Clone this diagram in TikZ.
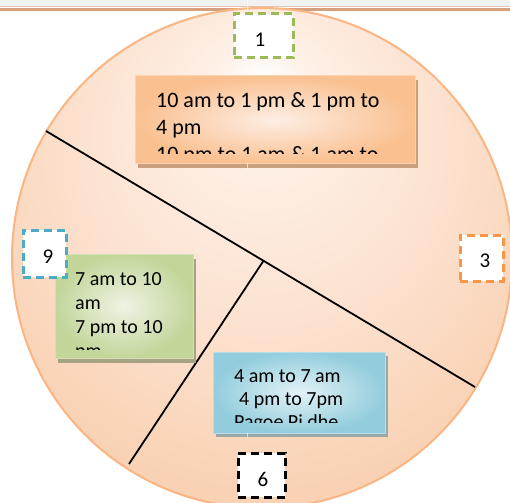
\documentclass[tikz,border=0pt]{standalone}
\usepackage{fontspec}
\setmainfont{Carlito}
\usetikzlibrary{shadows,calc}
\definecolor{topgray}{HTML}{F2F2F2}
\definecolor{bandtan}{HTML}{E6C3AA}
\definecolor{bandbrown}{HTML}{D4A07E}
\definecolor{circedge}{HTML}{FAB582}
\definecolor{pchA}{HTML}{FEF1E8}
\definecolor{pchB}{HTML}{FCE2D0}
\definecolor{pchC}{HTML}{F9D0B1}
\definecolor{orOut}{HTML}{FAC090}
\definecolor{orIn}{HTML}{FDEEE4}
\definecolor{orEdge}{HTML}{FBD3B2}
\definecolor{orShadow}{HTML}{C9A07E}
\definecolor{grOut}{HTML}{C2D69A}
\definecolor{grIn}{HTML}{EEF3E4}
\definecolor{grEdge}{HTML}{D3E2B6}
\definecolor{grShadow}{HTML}{A6A382}
\definecolor{blOut}{HTML}{93CDDD}
\definecolor{blIn}{HTML}{E3F2F6}
\definecolor{blEdge}{HTML}{B7DEE8}
\definecolor{blShadow}{HTML}{9AA8A8}
\definecolor{dGreen}{HTML}{9BBB59}
\definecolor{dBlue}{HTML}{4BACC6}
\definecolor{dOrange}{HTML}{F79646}
\pgfdeclareradialshading{circfill}{\pgfpoint{0bp}{18bp}}{color(0bp)=(white); color(5bp)=(pchA); color(18bp)=(pchB); color(32bp)=(pchC); color(50bp)=(pchC)}
\tikzset{
  tbox/.style={rectangle, line width=1pt, inner sep=0pt},
  obox/.style={tbox, draw=orEdge, inner color=orIn, outer color=orOut,
    drop shadow={shadow xshift=3pt, shadow yshift=-4pt, fill=orShadow, opacity=1}},
  gbox/.style={tbox, draw=grEdge, inner color=grIn, outer color=grOut,
    drop shadow={shadow xshift=3pt, shadow yshift=-5pt, fill=grShadow, opacity=1}},
  bbox/.style={tbox, draw=blEdge, inner color=blIn, outer color=blOut,
    drop shadow={shadow xshift=3pt, shadow yshift=-4pt, fill=blShadow, opacity=1}},
  numbox/.style={rectangle, fill=white, line width=3pt, dash pattern=on 8pt off 5pt, inner sep=0pt},
  numtxt/.style={anchor=base, inner sep=0pt, font=\fontsize{21}{25}\selectfont},
  bigtxt/.style={anchor=base west, inner sep=0pt, font=\fontsize{22}{27}\selectfont},
  smalltxt/.style={anchor=base west, inner sep=0pt, font=\fontsize{20}{24}\selectfont},
  divline/.style={draw=black, line width=1.8pt},
}
\begin{document}
\begin{tikzpicture}[x=1pt,y=-1pt]
\useasboundingbox (0,0) rectangle (510,502);
\clip (0,0) rectangle (510,502);
\fill[white] (0,0) rectangle (510,502);
\fill[topgray] (0,0) rectangle (510,6);
\draw[bandtan, line width=1pt] (0,6.5) -- (510,6.5);
\fill[bandbrown] (0,8) rectangle (510,11.5);
% circle
\path[shading=circfill, draw=circedge, line width=2pt] (262,258) circle[radius=250];
% dividing lines
\coordinate (L1a) at (46,131);
\coordinate (L1b) at (475,387);
\coordinate (J) at ($(L1a)!0.507!(L1b)$);
\coordinate (L2b) at (129,464);
\draw[divline] (L1a) -- (L1b);
\draw[divline] (J) -- (L2b);
% orange box
\node[obox, minimum width=280pt, minimum height=88pt] (ob) at (275,120) {};
\begin{scope}
\clip (136,76) rectangle (414,154);
\node[bigtxt] (ot1) at (156,108) {10 am to 1 pm \& 1 pm to};
\node[bigtxt] (ot2) at (156,135) {4 pm};
\node[bigtxt] (ot3) at (156,162) {10 pm to 1 am \& 1 am to};
\end{scope}
% green box
\node[gbox, minimum width=138pt, minimum height=104pt] (gb) at (124,306) {};
\begin{scope}
\clip (56,254) rectangle (192,349);
\node[smalltxt] (gt1) at (75,285) {7 am to 10};
\node[smalltxt] (gt2) at (75,309) {am};
\node[smalltxt] (gt3) at (75,333) {7 pm to 10};
\node[smalltxt] (gt4) at (75,357) {pm};
\end{scope}
% blue box
\node[bbox, minimum width=172pt, minimum height=81pt] (bb) at (299,392.5) {};
\begin{scope}
\clip (214,352) rectangle (384,422);
\node[smalltxt] (bt1) at (234,382) {4 am to 7 am};
\node[smalltxt] (bt2) at (239,405) {4 pm to 7pm};
\node[smalltxt] (bt3) at (234,428) {Pagoe Pi dhe};
\end{scope}
% faint vertical seam
\draw[white, line width=0.8pt, opacity=0.6] (247,0) -- (247,12);
\draw[white, line width=0.8pt, opacity=0.6] (247,163) -- (247,170);
\draw[white, line width=0.8pt, opacity=0.6] (247,433) -- (247,438);
% number boxes
\node[numbox, draw=dGreen, minimum width=59pt, minimum height=44pt] (n1) at (263.5,36) {};
\node[numtxt] (t1) at (260,47) {1};
\node[numbox, draw=dOrange, minimum width=43pt, minimum height=46pt] (n3) at (481.5,258) {};
\node[numtxt] (t3) at (485,267) {3};
\node[numbox, draw=dBlue, minimum width=43pt, minimum height=47pt] (n9) at (44.5,253.5) {};
\node[numtxt] (t9) at (48,263) {9};
\node[numbox, draw=black, minimum width=47pt, minimum height=44pt] (n6) at (261.5,475) {};
\node[numtxt] (t6) at (263,486) {6};
\end{tikzpicture}
\end{document}
